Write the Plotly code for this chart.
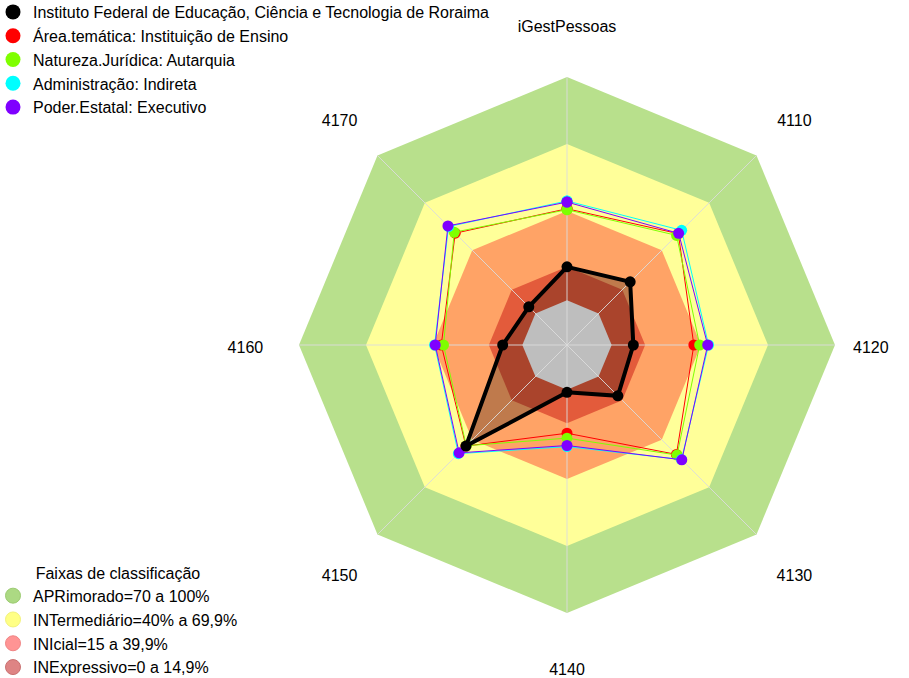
import plotly.graph_objects as go

categories = ["iGestPessoas", "4110", "4120", "4130", "4140", "4150", "4160", "4170"]

series_names = [
    "Instituto Federal de Educação, Ciência e Tecnologia de Roraima",
    "Área.temática: Instituição de Ensino",
    "Natureza.Jurídica: Autarquia",
    "Administração: Indireta",
    "Poder.Estatal: Executivo",
]
instituto = [15.0, 20.0, 9.7, 12.2, 1.2, 44.0, 8.8, 4.2]
area_tematica = [41.0, 50.5, 36.8, 49.3, 19.5, 44.0, 36.3, 50.8]
natureza = [40.6, 49.4, 39.4, 49.7, 21.7, 43.8, 35.3, 51.4]
administracao = [44.5, 52.6, 43.4, 52.5, 25.5, 48.8, 39.3, 55.0]
poder = [44.0, 50.7, 43.0, 52.7, 25.0, 48.3, 39.0, 55.4]
series_values = [instituto, area_tematica, natureza, administracao, poder]
series_colors = ["#000000", "#FF0000", "#7FFF00", "#00FFFF", "#7F00FF"]

band_names = ["APRimorado=70 a 100%", "INTermediário=40% a 69,9%",
              "INIcial=15 a 39,9%", "INExpressivo=0 a 14,9%"]
band_upper = [100, 70, 40, 15]
band_fill = ["#B8E08C", "#FFFF99", "#FFA366", "#E35B3B"]
band_legend = ["#ACD983", "#FFFF85", "#FF9494", "#DE8484"]
band_legend_line = ["#9CCB72", "#F2F27A", "#F08484", "#C97070"]
center_value = 0

# layout constants (not data)
radial_min = -20
radial_max = 126          # extra room so the category labels sit inside the radial range
label_r = 124
label_pos = ["middle center", "middle center", "middle left", "middle center",
             "middle center", "middle center", "middle center", "middle center"]

closed = categories + [categories[0]]

def close(v):
    return list(v) + [v[0]]

fig = go.Figure()

# classification bands (straight-edged octagons)
for up, col in zip(band_upper, band_fill):
    fig.add_trace(go.Scatterpolar(r=[up] * len(closed), theta=closed, mode="lines",
                                  fill="toself", fillcolor=col, line=dict(width=0, color=col),
                                  showlegend=False, hoverinfo="skip"))

# fill of institution polygon
fig.add_trace(go.Scatterpolar(r=close(instituto), theta=closed, mode="lines",
                              fill="toself", fillcolor="rgba(0,0,0,0.25)",
                              line=dict(width=0, color="rgba(0,0,0,0)"),
                              showlegend=False, hoverinfo="skip"))

# grey center
fig.add_trace(go.Scatterpolar(r=[center_value] * len(closed), theta=closed, mode="lines",
                              fill="toself", fillcolor="#BEBEBE", line=dict(width=0, color="#BEBEBE"),
                              showlegend=False, hoverinfo="skip"))

# spokes
sr, st = [], []
for c in categories:
    sr += [radial_min, band_upper[0], None]
    st += [c, c, None]
fig.add_trace(go.Scatterpolar(r=sr, theta=st, mode="lines",
                              line=dict(color="rgba(220,220,220,0.9)", width=1),
                              showlegend=False, hoverinfo="skip"))

# comparison series (drawn under the institution)
for name, vals, col in list(zip(series_names, series_values, series_colors))[1:]:
    fig.add_trace(go.Scatterpolar(r=close(vals), theta=closed, mode="lines+markers",
                                  line=dict(color=col, width=1),
                                  marker=dict(color=col, size=11),
                                  name=name, showlegend=False))

fig.add_trace(go.Scatterpolar(r=close(instituto), theta=closed, mode="lines",
                              line=dict(color="#000000", width=4),
                              name=series_names[0], showlegend=False))
fig.add_trace(go.Scatterpolar(r=instituto, theta=categories, mode="markers",
                              marker=dict(color="#000000", size=11, line=dict(width=0)),
                              name=series_names[0], showlegend=False))

# category labels (on a label-only polar sharing the same scale, nudged for text baseline)
fig.add_trace(go.Scatterpolar(r=[label_r] * len(categories), theta=categories, mode="text",
                              text=categories, textposition=label_pos,
                              textfont=dict(size=16, color="black"), cliponaxis=False,
                              showlegend=False, hoverinfo="skip", subplot="polar2"))

# legend entries (series)
for i, (name, col) in enumerate(zip(series_names, series_colors)):
    fig.add_trace(go.Scatterpolar(r=[None], theta=[categories[0]], mode="markers",
                                  marker=dict(color=col, size=15), name=name,
                                  legend="legend", legendrank=i + 1))

# legend entries (bands)
for i, (name, col, lc) in enumerate(zip(band_names, band_legend, band_legend_line)):
    fig.add_trace(go.Scatterpolar(r=[None], theta=[categories[0]], mode="markers",
                                  marker=dict(color=col, size=15, line=dict(color=lc, width=1)),
                                  name=name, legend="legend2", legendrank=i + 1))

W, H = 909, 678
cx, cy = 567, 345           # pixel centre of the radar
R_band = 268                # pixel radius of the 100% ring
R_dom = R_band * (radial_max - radial_min) / (100 - radial_min)
label_dy = 4.5              # text baseline nudge (px)

polar_common = dict(
    bgcolor="rgba(0,0,0,0)",
    radialaxis=dict(range=[radial_min, radial_max], visible=False, showgrid=False),
    angularaxis=dict(type="category", categoryarray=categories, rotation=90,
                     direction="clockwise", showgrid=False, showline=False,
                     ticks="", showticklabels=False),
)

fig.update_layout(
    width=W, height=H,
    margin=dict(l=0, r=0, t=0, b=0, autoexpand=False),
    paper_bgcolor="white",
    font=dict(family="Liberation Sans, Arial, sans-serif", size=16, color="black"),
    polar=dict(domain=dict(x=[(cx - R_dom) / W, (cx + R_dom) / W],
                           y=[(H - cy - R_dom) / H, (H - cy + R_dom) / H]),
               **polar_common),
    polar2=dict(domain=dict(x=[(cx - R_dom) / W, (cx + R_dom) / W],
                            y=[(H - cy - label_dy - R_dom) / H, (H - cy - label_dy + R_dom) / H]),
                **polar_common),
    legend=dict(x=-0.0077, y=1.0074, xanchor="left", yanchor="top",
                bgcolor="rgba(0,0,0,0)", font=dict(size=16)),
    legend2=dict(x=-0.0077, y=-0.0088, xanchor="left", yanchor="bottom",
                 bgcolor="rgba(0,0,0,0)", font=dict(size=16),
                 title=dict(text="Faixas de classificação", side="top center",
                            font=dict(size=16))),
    showlegend=True,
)

fig.write_html("out.html", config={"displayModeBar": False},
               post_script="document.body.style.margin='0px';")
